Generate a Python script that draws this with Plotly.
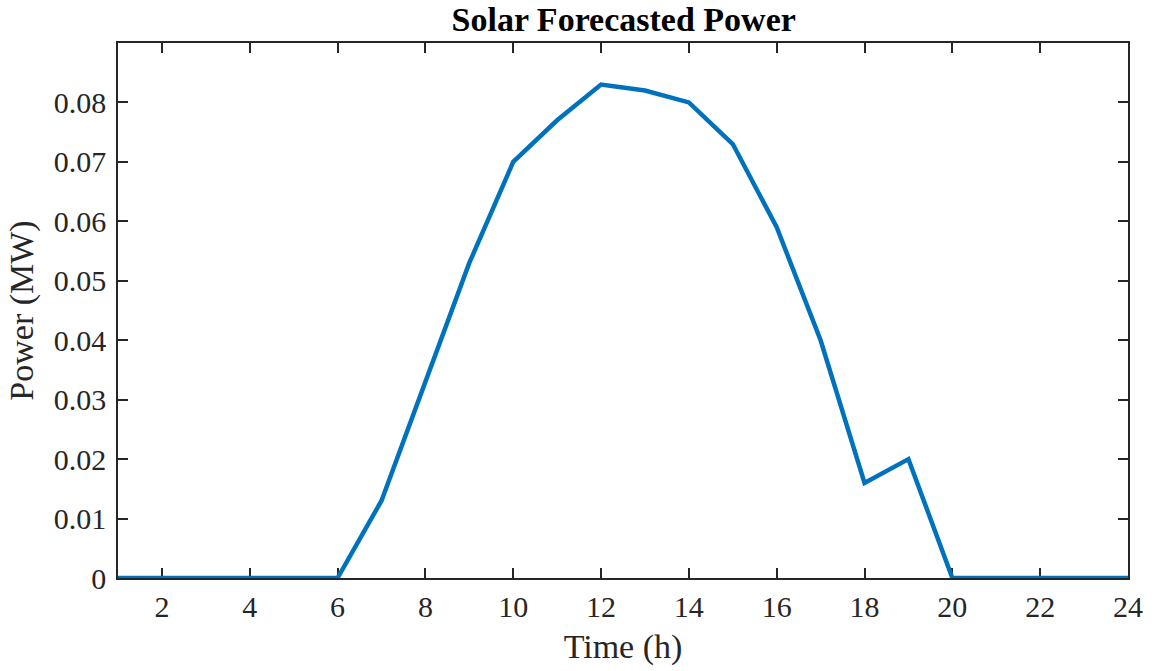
import plotly.graph_objects as go

# Hourly forecast of solar output
hours = list(range(1, 25))
power_mw = [0, 0, 0, 0, 0, 0, 0.013, 0.033, 0.053, 0.070, 0.077, 0.083,
            0.082, 0.080, 0.073, 0.059, 0.040, 0.016, 0.020, 0, 0, 0, 0, 0]

x_ticks = list(range(2, 25, 2))
y_ticks = [0, 0.01, 0.02, 0.03, 0.04, 0.05, 0.06, 0.07, 0.08]
y_tick_text = ["0", "0.01", "0.02", "0.03", "0.04", "0.05", "0.06", "0.07", "0.08"]

FONT = "Liberation Serif, Times New Roman, serif"
AX = "#262626"

fig = go.Figure()
fig.add_trace(go.Scatter(
    x=hours, y=power_mw, mode="lines",
    line=dict(color="#0072BD", width=4.5),
    cliponaxis=False, showlegend=False,
))

axis_common = dict(
    showline=True, linecolor=AX, linewidth=1.5, mirror="ticks",
    ticks="inside", ticklen=10, tickwidth=1.5, tickcolor=AX,
    showgrid=False, zeroline=False, layer="below traces",
    tickfont=dict(family=FONT, size=30, color=AX),
)

fig.update_layout(
    width=1155, height=671,
    margin=dict(l=118, r=25, t=43, b=93),
    paper_bgcolor="white", plot_bgcolor="white",
    title=dict(text="<b>Solar Forecasted Power</b>", x=0.54, xanchor="center",
               y=0.972, yanchor="middle",
               font=dict(family=FONT, size=34, color="black")),
    xaxis=dict(range=[1, 24], tickvals=x_ticks,
               title=dict(text="Time (h)", font=dict(family=FONT, size=34, color=AX), standoff=12),
               ticklabelstandoff=1, **axis_common),
    yaxis=dict(range=[0, 0.09], tickvals=y_ticks, ticktext=y_tick_text,
               title=dict(text="Power (MW)", font=dict(family=FONT, size=34, color=AX), standoff=10),
               ticklabelstandoff=4, **axis_common),
)

fig.write_html("out.html")
